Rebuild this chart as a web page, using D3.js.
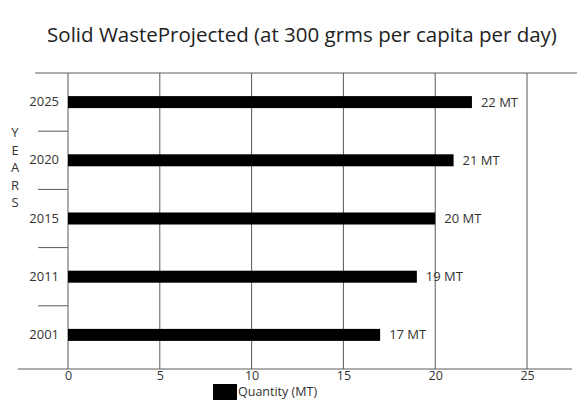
<!DOCTYPE html>
<html>
<head>
<meta charset="utf-8">
<script src="https://cdn.jsdelivr.net/npm/d3@7/dist/d3.min.js"></script>
<style>
  html, body { margin: 0; padding: 0; background: #fff; }
  svg { display: block; font-family: "Open Sans", "Noto Sans", sans-serif; }
</style>
</head>
<body>
<svg id="chart" width="577" height="400"></svg>
<script>
// Projected solid waste, million tonnes per year
const years = ["2025", "2020", "2015", "2011", "2001"];
const quantities = [22, 21, 20, 19, 17];
const valueLabels = ["22 MT", "21 MT", "20 MT", "19 MT", "17 MT"];
const xTicks = [0, 5, 10, 15, 20, 25];
const axisTitleLetters = ["Y", "E", "A", "R", "S"];

const svg = d3.select("#chart");
const plotLeft = 68, plotRight = 572, plotTop = 73, plotBottom = 369;

const x = d3.scaleLinear().domain([0, 27.45]).range([plotLeft, plotRight]);
const y = d3.scaleBand().domain(years).range([plotTop, 364]).paddingInner(0).paddingOuter(0);

// Title
svg.append("text")
  .attr("x", 302).attr("y", 42)
  .attr("text-anchor", "middle")
  .attr("font-size", 20.5)
  .attr("fill", "#222")
  .text("Solid WasteProjected (at 300 grms per capita per day)");

// Vertical gridlines (including the value axis origin)
svg.append("g")
  .selectAll("line")
  .data(xTicks)
  .join("line")
  .attr("x1", d => x(d)).attr("x2", d => x(d))
  .attr("y1", plotTop).attr("y2", plotBottom)
  .attr("stroke", "#5a5a5a").attr("stroke-width", 1);

// Top frame line
svg.append("line")
  .attr("x1", 35).attr("x2", 577)
  .attr("y1", plotTop).attr("y2", plotTop)
  .attr("stroke", "#5a5a5a");

// Category separators on the left
const seps = years.slice(1).map(d => y(d));
svg.append("g")
  .selectAll("line")
  .data(seps)
  .join("line")
  .attr("x1", 38).attr("x2", plotLeft)
  .attr("y1", d => d).attr("y2", d => d)
  .attr("stroke", "#5a5a5a");

// Bottom axis
const xAxis = d3.axisBottom(x).tickValues(xTicks).tickSize(0).tickPadding(2);
const gx = svg.append("g").attr("transform", `translate(0,${plotBottom})`).call(xAxis);
gx.select(".domain").remove();
gx.selectAll("text").attr("font-size", 12.5).attr("fill", "#333")
  .attr("font-family", "\"Open Sans\", sans-serif");
svg.append("line")
  .attr("x1", 18).attr("x2", plotRight)
  .attr("y1", plotBottom).attr("y2", plotBottom)
  .attr("stroke", "#5a5a5a");

// Year labels
const yAxis = d3.axisLeft(y).tickSize(0).tickPadding(9);
const gy = svg.append("g").attr("transform", `translate(${plotLeft},0)`).call(yAxis);
gy.select(".domain").remove();
gy.selectAll("text").attr("font-size", 13).attr("fill", "#333")
  .attr("font-family", "\"Open Sans\", sans-serif");

// Bars
const barH = 12;
svg.append("g")
  .selectAll("rect")
  .data(years)
  .join("rect")
  .attr("x", x(0))
  .attr("y", (d) => y(d) + y.bandwidth() / 2 - barH / 2)
  .attr("width", (d, i) => x(quantities[i]) - x(0))
  .attr("height", barH)
  .attr("fill", "#000");

// Value labels
svg.append("g")
  .selectAll("text")
  .data(years)
  .join("text")
  .attr("x", (d, i) => x(quantities[i]) + 9)
  .attr("y", (d) => y(d) + y.bandwidth() / 2)
  .attr("dy", "0.35em")
  .attr("font-size", 13)
  .attr("fill", "#333")
  .text((d, i) => valueLabels[i]);

// Vertical axis title, one letter per line
svg.append("g")
  .selectAll("text")
  .data(axisTitleLetters)
  .join("text")
  .attr("x", 15)
  .attr("y", (d, i) => 137 + i * 17.5)
  .attr("text-anchor", "middle")
  .attr("font-size", 13)
  .attr("fill", "#333")
  .text(d => d);

// Legend
svg.append("rect")
  .attr("x", 213).attr("y", 384).attr("width", 24).attr("height", 16)
  .attr("fill", "#000");
svg.append("text")
  .attr("x", 238).attr("y", 395.5)
  .attr("font-size", 12.5)
  .attr("fill", "#333")
  .text("Quantity (MT)");
</script>
</body>
</html>
